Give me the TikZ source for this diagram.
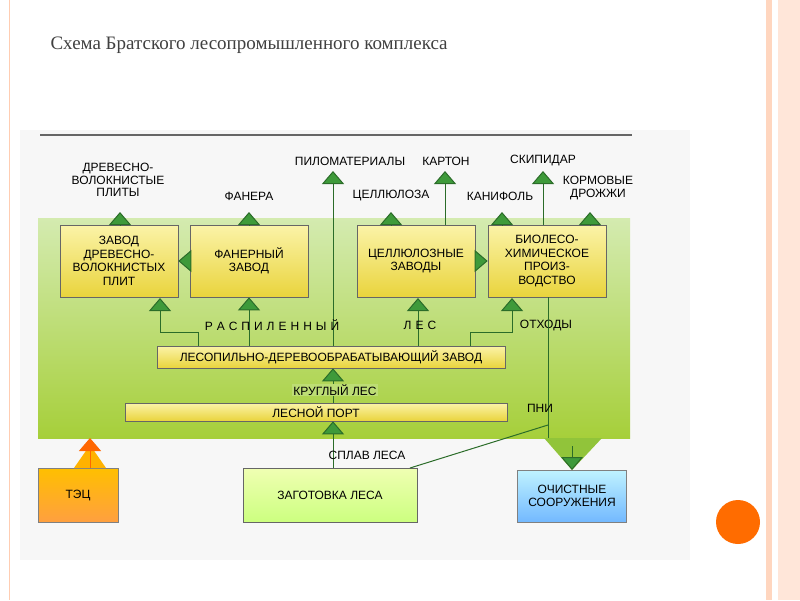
\documentclass[tikz,border=0pt]{standalone}
\usepackage{fontspec}
\setmainfont{Liberation Sans}
\newfontfamily\titlefont{Liberation Serif}
\usetikzlibrary{arrows.meta}
\definecolor{ar}{HTML}{3E9A3A}
\definecolor{gtop}{HTML}{D4EBB0}
\definecolor{gbot}{HTML}{A6CF3A}
\definecolor{ytop}{HTML}{FBF3A8}
\definecolor{ybot}{HTML}{E9D43C}
\begin{document}
\begin{tikzpicture}[x=1pt,y=-1pt,
 lbl/.style={font=\fontsize{12}{12.5}\selectfont,align=center,inner sep=0pt},
 box/.style={draw=black!60,line width=0.6pt,top color=ytop,bottom color=ybot,font=\fontsize{12}{13.5}\selectfont,align=center},
 ga/.style={draw=ar!70!black,line width=1pt,-{Triangle[width=22pt,length=13pt,fill=ar]}},
 gl/.style={draw=ar!70!black,line width=1pt}]
\useasboundingbox (0,0) rectangle (800,600);
\fill[white] (0,0) rectangle (800,600);
% slide decorations
\fill[red!30!orange!25] (766,0) rectangle (772,600);
\fill[red!30!orange!15] (778,0) rectangle (800,600);
\draw[red!30!orange!30,line width=1pt] (9,0) -- (9,600);
\fill[orange!85!red] (738,522) circle (22);
\node[anchor=west,font=\titlefont\fontsize{19}{22}\selectfont,text=black!75] (title) at (47,45) {Схема Братского лесопромышленного комплекса};
% diagram background
\fill[black!3] (20,130) rectangle (690,560);
\draw[black!60,line width=1.2pt] (40,135) -- (632,135);
\shade[top color=gtop,bottom color=gbot] (38,218) rectangle (630,438);
% boxes
\node[box,minimum width=118,minimum height=72] (dvp) at (119,261) {ЗАВОД\\ДРЕВЕСНО-\\ВОЛОКНИСТЫХ\\ПЛИТ};
\node[box,minimum width=118,minimum height=72] (fan) at (249,261) {ФАНЕРНЫЙ\\ЗАВОД};
\node[box,minimum width=118,minimum height=72] (cel) at (416,261) {ЦЕЛЛЮЛОЗНЫЕ\\ЗАВОДЫ};
\node[box,minimum width=118,minimum height=72] (bio) at (547,261) {БИОЛЕСО-\\ХИМИЧЕСКОЕ\\ПРОИЗ-\\ВОДСТВО};
\node[box,minimum width=348,minimum height=22,inner sep=0pt] (les) at (331,357) {ЛЕСОПИЛЬНО-ДЕРЕВООБРАБАТЫВАЮЩИЙ ЗАВОД};
\node[box,minimum width=382,minimum height=18,inner sep=0pt] (port) at (316,412) {ЛЕСНОЙ ПОРТ};
\node[draw=black!50,top color=orange!50!yellow,bottom color=orange!75,minimum width=80,minimum height=54,font=\fontsize{12}{13}\selectfont] (tec) at (78,495) {ТЭЦ};
\node[draw=black!60,top color=green!20!yellow!30,bottom color=green!40!yellow!50!white,minimum width=174,minimum height=54,font=\fontsize{12}{13}\selectfont] (zag) at (330,495) {ЗАГОТОВКА ЛЕСА};
\node[draw=black!50,top color=blue!20!cyan!25,bottom color=blue!50!cyan!55,minimum width=109,minimum height=52,align=center,font=\fontsize{12}{13}\selectfont] (och) at (572,496) {ОЧИСТНЫЕ\\СООРУЖЕНИЯ};
% product labels
\node[lbl] (l1) at (118,180) {ДРЕВЕСНО-\\ВОЛОКНИСТЫЕ\\ПЛИТЫ};
\node[lbl] (l2) at (249,196) {ФАНЕРА};
\node[lbl] (l3) at (350,161) {ПИЛОМАТЕРИАЛЫ};
\node[lbl] (l4) at (391,196) {ЦЕЛЛЮЛОЗА};
\node[lbl] (l5) at (446,161) {КАРТОН};
\node[lbl] (l6) at (500,196) {КАНИФОЛЬ};
\node[lbl] (l7) at (543,161) {СКИПИДАР};
\node[lbl] (l8) at (598,188) {КОРМОВЫЕ\\ДРОЖЖИ};
\coordinate (c1) at (120,212); \coordinate (c2) at (249,212);
\coordinate (c3) at (333,171); \coordinate (c4) at (391,212);
\coordinate (c5) at (445,171); \coordinate (c6) at (502,212);
\coordinate (c7) at (543,171); \coordinate (c8) at (590,212);
\draw[ga] (dvp.north -| c1) -- (c1);
\draw[ga] (fan.north -| c2) -- (c2);
\draw[ga] (les.north -| c3) -- (c3);
\draw[ga] (cel.north -| c4) -- (c4);
\draw[ga] (cel.north -| c5) -- (c5);
\draw[ga] (bio.north -| c6) -- (c6);
\draw[ga] (bio.north -| c7) -- (c7);
\draw[ga] (bio.north -| c8) -- (c8);
% side arrows
\draw[ga] (fan.west) -- (dvp.east);
\draw[ga] (cel.east) -- (bio.west);
% from sawmill
\draw[ga] (198,346) -- (198,332) -- (160,332) -- (160,298);
\draw[ga] (les.north -| fan.south) -- (fan.south);
\draw[ga] (418,346) -- (418,298);
\draw[ga] (470,346) -- (470,332) -- (512,332) -- (512,298);
\node[lbl] (rasp) at (272,325) {Р\,\,А\,\,С\,\,П\,\,И\,\,Л\,\,Е\,\,Н\,\,Н\,\,Ы\,\,Й};
\node[lbl] (lesl) at (420,325) {Л\,\,Е\,\,С};
\node[lbl] (otx) at (546,325) {ОТХОДЫ};
% bottom chain
\draw[ga] (port.north -| c3) -- (les.south -| c3);
\node[lbl,fill=gtop!50!gbot,inner sep=1pt] (krug) at (335,390) {КРУГЛЫЙ ЛЕС};
\draw[ga] (zag.north -| c3) -- (port.south -| c3);
\node[lbl] (splav) at (367,455) {СПЛАВ ЛЕСА};
% waste line
\fill[gbot!80!ar] (544,438) -- (602,438) -- (572,470) -- cycle;
\draw[gl] (548,297) -- (548,438);
\coordinate (wt) at (572,470);
\draw[ga] (572,446) -- (wt);
\draw[gl] (548,425) -- (410,468);
\node[lbl] (pni) at (540,408) {ПНИ};
% TEC
\fill[orange!60!yellow] (74,468) -- (106,468) -- (90,445) -- cycle;
\draw[draw=orange!80!red,line width=1pt,-{Triangle[width=22pt,length=13pt,fill=orange!80!red]}] (90,468) -- (90,438);
\end{tikzpicture}
\end{document}
